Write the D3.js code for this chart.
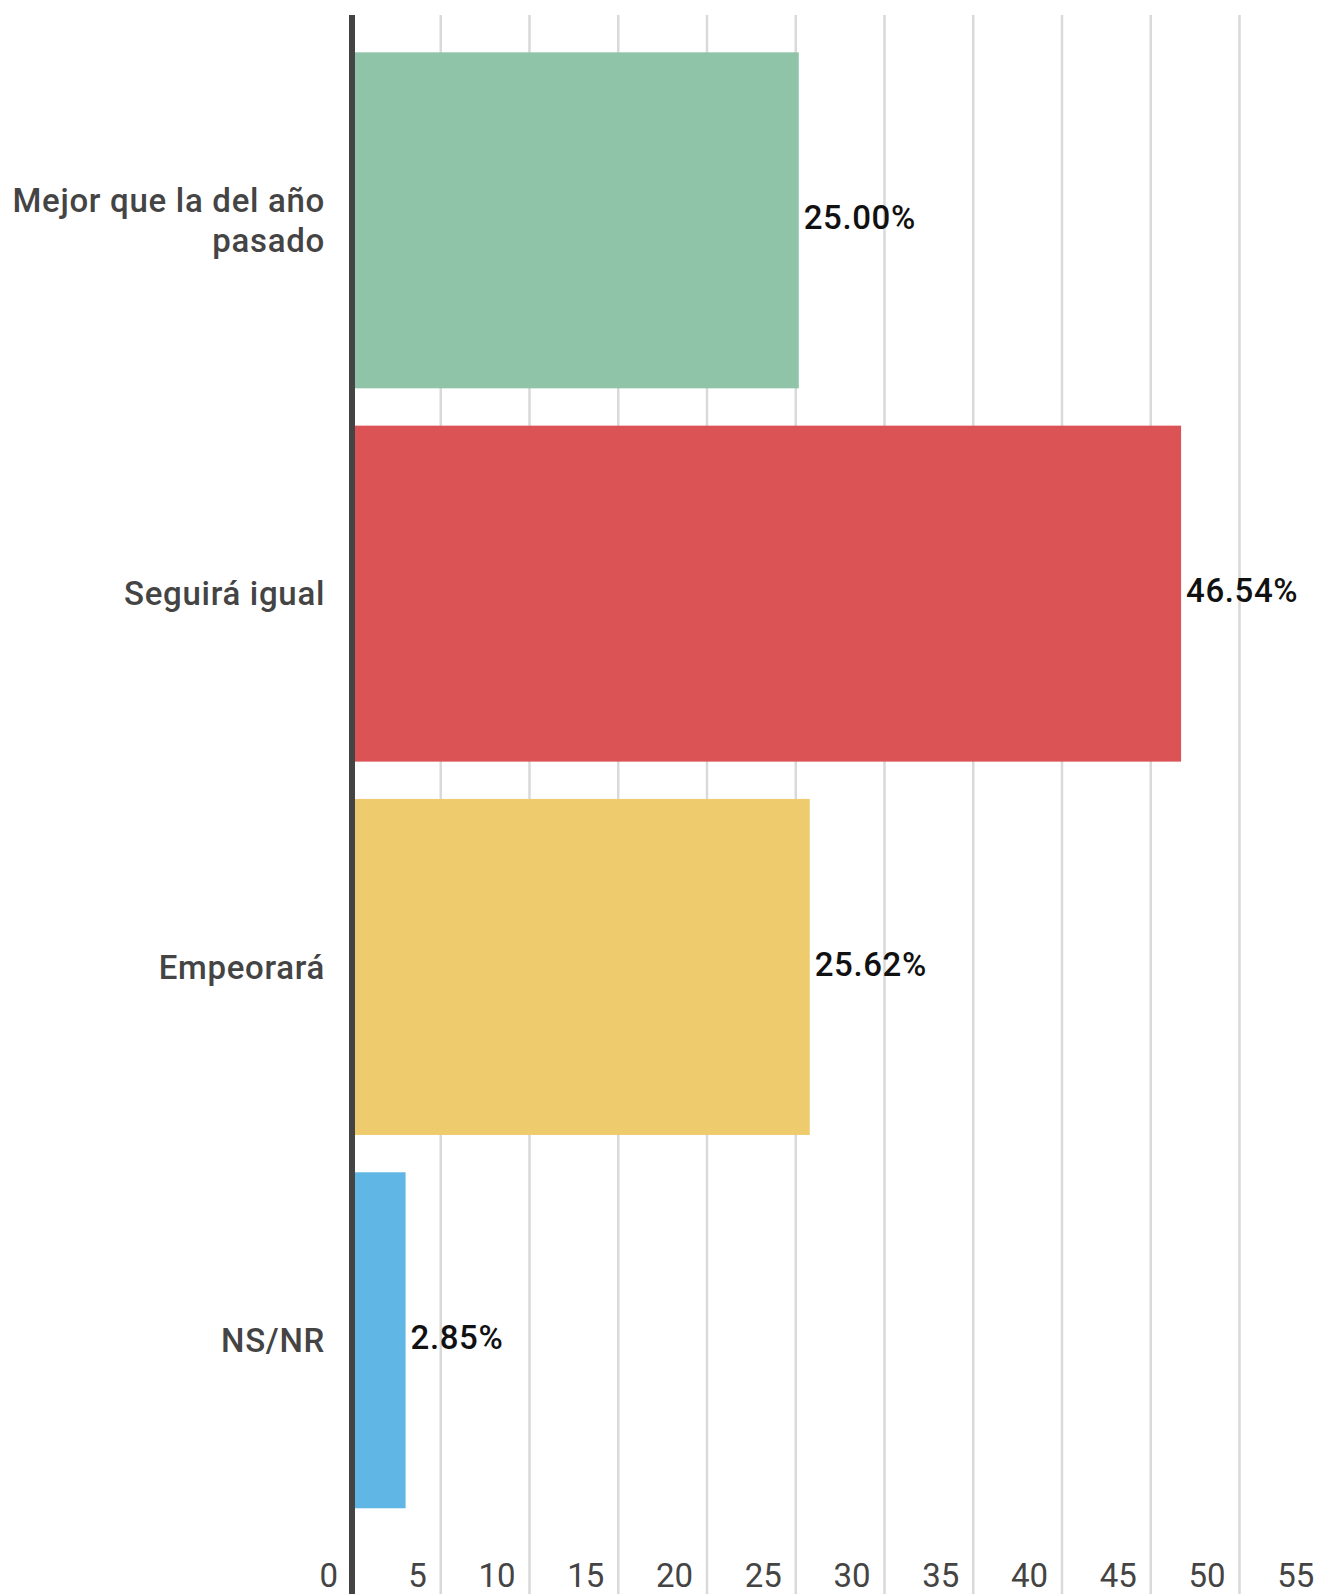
<!DOCTYPE html>
<html><head><meta charset="utf-8">
<script src="https://cdn.jsdelivr.net/npm/d3@7"></script>
<style>body{margin:0;background:#fff}svg{display:block}</style>
</head><body>
<script>
const categories = [["Mejor que la del año","pasado"],["Seguirá igual"],["Empeorará"],["NS/NR"]];
const values = [25.00, 46.54, 25.62, 2.85];
const valueLabels = ["25.00%","46.54%","25.62%","2.85%"];
const colors = ["#8fc4a9","#dc5356","#eecb6c","#60b6e5"];
const ticks = [0,5,10,15,20,25,30,35,40,45,50,55];

const W = 1323, H = 1594;
const svg = d3.select("body").append("svg").attr("width", W).attr("height", H);
const x = d3.scaleLinear().domain([0, 5]).range([352, 440.75]);
const y = d3.scaleBand().domain(d3.range(values.length)).range([15, 1545.6]).paddingInner(0.1).paddingOuter(0.1);

// grid
svg.append("g").selectAll("line").data(ticks.slice(1)).join("line")
  .attr("x1", d => x(d)).attr("x2", d => x(d)).attr("y1", 15).attr("y2", H)
  .attr("stroke", "#d9d9d9").attr("stroke-width", 2.5);

// tick labels
svg.append("g").selectAll("text").data(ticks).join("text")
  .attr("x", d => x(d) - 14).attr("y", 1587).attr("text-anchor", "end")
  .attr("font-family", "Roboto").attr("font-size", 33).attr("fill", "#444")
  .text(d => d);

// bars
svg.append("g").selectAll("rect").data(values).join("rect")
  .attr("x", x(0) + 3).attr("y", (d, i) => y(i))
  .attr("width", d => x(d) - x(0)).attr("height", y.bandwidth())
  .attr("fill", (d, i) => colors[i]);

// axis line
svg.append("line").attr("x1", 352).attr("x2", 352).attr("y1", 15).attr("y2", H)
  .attr("stroke", "#444").attr("stroke-width", 6);

// value labels
svg.append("g").selectAll("text").data(values).join("text")
  .attr("x", d => x(d) + 3 + 5).attr("y", (d, i) => y(i) + y.bandwidth() / 2 - 3)
  .attr("dy", "0.35em")
  .attr("font-family", "Roboto").attr("font-weight", 500).attr("font-size", 33)
  .attr("letter-spacing", 0.6).attr("fill", "#111")
  .text((d, i) => valueLabels[i]);

// category labels
const cat = svg.append("g").selectAll("text").data(categories).join("text")
  .attr("text-anchor", "end")
  .attr("font-family", "Roboto").attr("font-weight", 500).attr("font-size", 33)
  .attr("letter-spacing", 0.7).attr("fill", "#444")
  .attr("transform", (d, i) => `translate(325,${y(i) + y.bandwidth() / 2})`);
cat.each(function(d) {
  const n = d.length;
  d3.select(this).selectAll("tspan").data(d).join("tspan")
    .attr("x", 0)
    .attr("y", (t, j) => (j - (n - 1) / 2) * 40)
    .attr("dy", "0.35em")
    .text(t => t);
});
</script>
</body></html>
